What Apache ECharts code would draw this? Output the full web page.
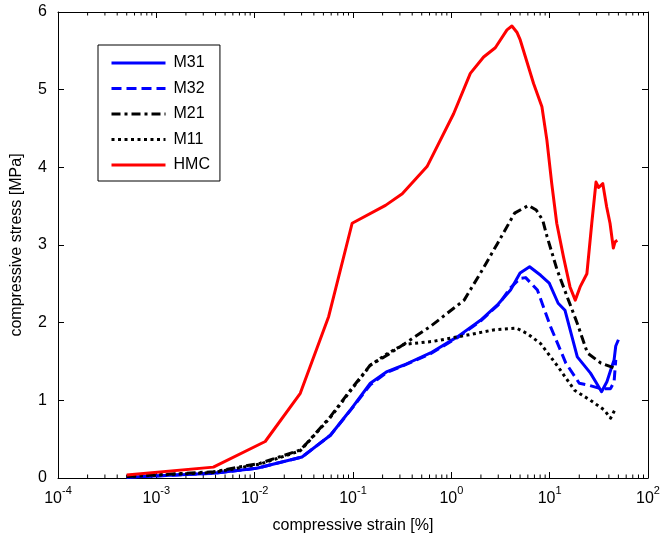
<!DOCTYPE html>
<html><head><meta charset="utf-8">
<script src="https://cdn.jsdelivr.net/npm/echarts@6/dist/echarts.min.js"></script>
<style>html,body{margin:0;padding:0;background:#fff}#c{width:660px;height:543px}</style>
</head><body><div id="c"></div>
<script>
const seriesNames = ['M31', 'M32', 'M21', 'M11', 'HMC'];

const m31X = [5e-4, 3.8e-3, 0.0105, 0.0303, 0.0589, 0.094, 0.150, 0.222, 0.33, 0.614, 1.16, 1.98, 3.0, 4.0, 5.0, 6.25, 8.1, 9.9, 12.2, 14.3, 19.1, 26.0, 30.0, 33.7, 38.2, 42.0, 45.2, 47.0, 50.0];
const m31Y = [0.01, 0.06, 0.125, 0.27, 0.55, 0.875, 1.22, 1.37, 1.455, 1.61, 1.82, 2.03, 2.24, 2.42, 2.64, 2.72, 2.61, 2.51, 2.25, 2.16, 1.56, 1.35, 1.22, 1.11, 1.24, 1.40, 1.52, 1.70, 1.78];

const m32X = [5e-4, 3.8e-3, 0.0105, 0.0303, 0.0589, 0.094, 0.150, 0.222, 0.33, 0.614, 1.16, 1.98, 3.0, 4.0, 5.0, 5.7, 7.5, 10.2, 14.6, 20.0, 24.1, 33.0, 41.6, 45.2, 47.0];
const m32Y = [0.01, 0.06, 0.125, 0.27, 0.55, 0.87, 1.20, 1.36, 1.45, 1.60, 1.81, 2.02, 2.23, 2.45, 2.57, 2.58, 2.42, 1.95, 1.48, 1.22, 1.20, 1.15, 1.15, 1.24, 1.52];

const m21X = [5e-4, 3.8e-3, 0.0114, 0.0291, 0.034, 0.0589, 0.094, 0.150, 0.222, 0.385, 0.61, 1.35, 1.98, 2.95, 4.4, 6.1, 7.3, 8.5, 9.4, 11.9, 15.1, 19.1, 24.2, 33.1, 47.1];
const m21Y = [0.02, 0.08, 0.19, 0.36, 0.45, 0.79, 1.13, 1.455, 1.58, 1.78, 1.95, 2.29, 2.64, 3.02, 3.41, 3.51, 3.45, 3.32, 3.11, 2.68, 2.33, 1.99, 1.61, 1.48, 1.41];

const m11X = [5e-4, 3.8e-3, 0.0114, 0.0291, 0.0589, 0.094, 0.150, 0.222, 0.33, 0.66, 1.45, 2.77, 4.6, 5.9, 8.1, 12.2, 17.9, 26.0, 35.9, 41.6, 47.0];
const m11Y = [0.02, 0.07, 0.18, 0.35, 0.78, 1.12, 1.45, 1.60, 1.72, 1.76, 1.84, 1.91, 1.93, 1.86, 1.73, 1.43, 1.13, 1.00, 0.875, 0.77, 0.90];

const hmcX = [5e-4, 3.8e-3, 0.0128, 0.0291, 0.0566, 0.098, 0.214, 0.317, 0.566, 1.055, 1.56, 2.13, 2.80, 3.68, 4.13, 4.64, 5.02, 6.86, 8.34, 9.37, 10.5, 11.8, 13.8, 16.1, 18.2, 20.4, 23.9, 26.8, 29.6, 31.5, 34.7, 38.0, 41.1, 44.4, 46.2, 48.7];
const hmcY = [0.04, 0.14, 0.47, 1.09, 2.08, 3.28, 3.51, 3.66, 4.01, 4.69, 5.21, 5.42, 5.54, 5.77, 5.82, 5.74, 5.64, 5.08, 4.78, 4.35, 3.79, 3.28, 2.85, 2.46, 2.29, 2.46, 2.63, 3.28, 3.81, 3.74, 3.79, 3.49, 3.28, 2.96, 3.04, 3.06];

const xMin = 1e-4, xMax = 100;
const yMin = 0, yMax = 6, yStep = 1;
const minorMultipliers = [2, 3, 4, 5, 6, 7, 8, 9];
const decadeExponents = [-4, -3, -2, -1, 0, 1];

const FONT = 'Liberation Sans, Arial, Helvetica, sans-serif';
const zip = (xs, ys) => xs.map((x, i) => [x, ys[i]]);

const minorTickValues = [];
decadeExponents.forEach(e => minorMultipliers.forEach(m => minorTickValues.push([m * Math.pow(10, e), 0])));

const seriesDefs = [
  { name: 'M31', x: m31X, y: m31Y, color: '#0000ff', type: 'solid' },
  { name: 'M32', x: m32X, y: m32Y, color: '#0000ff', type: [10, 5] },
  { name: 'M21', x: m21X, y: m21Y, color: '#000000', type: [9, 4, 3, 4] },
  { name: 'M11', x: m11X, y: m11Y, color: '#000000', type: [3, 3.5] },
  { name: 'HMC', x: hmcX, y: hmcY, color: '#ff0000', type: 'solid' }
];

const chart = echarts.init(document.getElementById('c'), null, { renderer: 'canvas' });

const axisLineStyle = { show: true, onZero: false, lineStyle: { color: '#000', width: 1 } };
const tickStyle = { show: true, inside: true, length: 6, lineStyle: { color: '#000', width: 1 } };

const option = {
  backgroundColor: '#fff',
  animation: false,
  textStyle: { fontFamily: FONT },
  grid: { left: 58, right: 12, top: 12, bottom: 65, containLabel: false, outerBoundsMode: 'none' },
  legend: {
    data: seriesNames,
    orient: 'vertical',
    left: 98, top: 45,
    padding: [10, 10, 8, 12],
    itemWidth: 54, itemHeight: 14, itemGap: 9.5,
    borderColor: '#000', borderWidth: 1,
    backgroundColor: '#fff',
    itemStyle: { opacity: 0 },
    lineStyle: { width: 3 },
    textStyle: { fontSize: 16, color: '#000', fontFamily: FONT, padding: [0, 0, 0, 3] }
  },
  xAxis: [
    {
      type: 'log', logBase: 10, min: xMin, max: xMax, splitNumber: 6,
      name: 'compressive strain [%]', nameLocation: 'middle', nameGap: 40,
      nameTextStyle: { fontSize: 16, color: '#000', fontFamily: FONT },
      axisLine: axisLineStyle,
      axisTick: tickStyle,
      splitLine: { show: false },
      axisLabel: {
        margin: 7, color: '#000',
        formatter: v => '{b|10}{s|' + Math.round(Math.log10(v)) + '}',
        rich: {
          b: { fontSize: 16, fontFamily: FONT, color: '#000', lineHeight: 22, verticalAlign: 'bottom' },
          s: { fontSize: 11, fontFamily: FONT, color: '#000', verticalAlign: 'top' }
        }
      }
    },
    {
      type: 'log', logBase: 10, min: xMin, max: xMax, splitNumber: 6, position: 'top',
      axisLine: axisLineStyle,
      axisTick: tickStyle,
      axisLabel: { show: false }, splitLine: { show: false }
    }
  ],
  yAxis: [
    {
      type: 'value', min: yMin, max: yMax, interval: yStep,
      name: 'compressive stress [MPa]', nameLocation: 'middle', nameGap: 33,
      nameTextStyle: { fontSize: 16, color: '#000', fontFamily: FONT },
      axisLine: axisLineStyle,
      axisTick: tickStyle,
      splitLine: { show: false },
      axisLabel: { fontSize: 16, color: '#000', margin: 11, fontFamily: FONT }
    },
    {
      type: 'value', min: yMin, max: yMax, interval: yStep, position: 'right',
      axisLine: axisLineStyle,
      axisTick: tickStyle,
      axisLabel: { show: false }, splitLine: { show: false }
    }
  ],
  series: seriesDefs.map(s => ({
    name: s.name, type: 'line', xAxisIndex: 0, yAxisIndex: 0,
    data: zip(s.x, s.y), showSymbol: false, symbol: 'none', smooth: false,
    color: s.color,
    lineStyle: { color: s.color, width: 3, type: s.type, cap: 'butt', join: 'round' },
    itemStyle: { color: s.color }
  })).concat([{
    name: 'minorTicks', type: 'custom', xAxisIndex: 0, yAxisIndex: 0, silent: true,
    data: minorTickValues, clip: false,
    renderItem: (params, api) => {
      const v = api.value(0);
      const b = api.coord([v, yMin]);
      const t = api.coord([v, yMax]);
      return {
        type: 'group',
        children: [
          { type: 'line', shape: { x1: b[0], y1: b[1], x2: b[0], y2: b[1] - 3.5 }, style: { stroke: '#000', lineWidth: 1 } },
          { type: 'line', shape: { x1: t[0], y1: t[1], x2: t[0], y2: t[1] + 3.5 }, style: { stroke: '#000', lineWidth: 1 } }
        ]
      };
    }
  }])
};
chart.setOption(option);
</script>
</body></html>
